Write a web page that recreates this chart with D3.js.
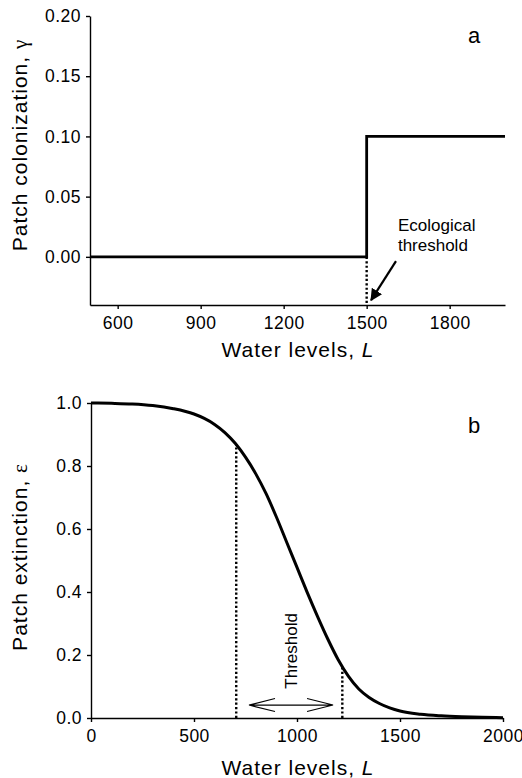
<!DOCTYPE html>
<html>
<head>
<meta charset="utf-8">
<script src="https://cdn.jsdelivr.net/npm/d3@7"></script>
<style>
  body { margin: 0; background: #fff; }
  text { font-family: "Liberation Sans", Arial, Helvetica, sans-serif; fill: #000; }
  .tick text { font-size: 17.5px; letter-spacing: 0.5px; }
  .domain, .tick line { stroke: #000; stroke-width: 1.4px; }
  .title { font-size: 21px; letter-spacing: 1px; }
  .greek { font-family: "Liberation Serif", "DejaVu Serif", serif; }
</style>
</head>
<body>
<script>
// panel a: colonization step
var colonLevels = [500, 1500, 2000];
var colonValues = [0, 0.1, 0.1];
var colonXTicks = [600, 900, 1200, 1500, 1800];
var colonYTicks = [0, 0.05, 0.1, 0.15, 0.2];
var colonThreshold = 1500;

// panel b: extinction curve
var extLevels = [0, 100, 200, 300, 400, 500, 550, 600, 650, 700, 750, 800, 850, 900, 950, 1000, 1050, 1100, 1150, 1200, 1250, 1300, 1350, 1400, 1450, 1500, 1600, 1700, 1800, 1900, 2000];
var extValues = [1.0, 0.999, 0.997, 0.992, 0.982, 0.965, 0.951, 0.932, 0.906, 0.872, 0.828, 0.775, 0.712, 0.638, 0.558, 0.478, 0.398, 0.322, 0.25, 0.185, 0.132, 0.092, 0.065, 0.046, 0.032, 0.022, 0.012, 0.007, 0.004, 0.002, 0.001];
var extXTicks = [0, 500, 1000, 1500, 2000];
var extYTicks = [0, 0.2, 0.4, 0.6, 0.8, 1.0];
var thresholdLevels = [705, 1220];
var thresholdValues = [0.869, 0.162];
var arrowLevels = [767, 1175];
var arrowValue = 0.041;

var svg = d3.select("body").append("svg")
    .attr("width", 522)
    .attr("height", 778);

// ---------- panel a ----------
var xa = d3.scaleLinear().domain([500, 2000]).range([90, 505]);
var ya = d3.scaleLinear().domain([-0.04, 0.2]).range([305, 16]);

svg.append("g")
    .attr("transform", "translate(0,305)")
    .call(d3.axisBottom(xa).tickValues(colonXTicks).tickFormat(d3.format("d")).tickSize(4).tickSizeOuter(0).tickPadding(8));

svg.append("g")
    .attr("transform", "translate(90,0)")
    .call(d3.axisLeft(ya).tickValues(colonYTicks).tickFormat(d3.format(".2f")).tickSize(4).tickSizeOuter(0).tickPadding(5));

svg.append("path")
    .datum(colonLevels.map(function(d, i) { return [d, colonValues[i]]; }))
    .attr("fill", "none")
    .attr("stroke", "#000")
    .attr("stroke-width", 2.8)
    .attr("d", d3.line()
        .x(function(d) { return xa(d[0]); })
        .y(function(d) { return ya(d[1]); })
        .curve(d3.curveStepAfter));

svg.append("line")
    .attr("x1", xa(colonThreshold)).attr("x2", xa(colonThreshold))
    .attr("y1", ya(0)).attr("y2", ya(-0.04))
    .attr("stroke", "#000")
    .attr("stroke-width", 2.4)
    .attr("stroke-dasharray", "2.2,2.2");

svg.append("defs").append("marker")
    .attr("id", "solidhead")
    .attr("viewBox", "0 0 10 10")
    .attr("refX", 9).attr("refY", 5)
    .attr("markerWidth", 5.5).attr("markerHeight", 5.5)
    .attr("orient", "auto")
    .append("path")
    .attr("d", "M0,0 L10,5 L0,10 z")
    .attr("fill", "#000");

svg.append("line")
    .attr("x1", xa(1606)).attr("y1", ya(-0.0035))
    .attr("x2", xa(1516)).attr("y2", ya(-0.036))
    .attr("stroke", "#000")
    .attr("stroke-width", 2.2)
    .attr("marker-end", "url(#solidhead)");

svg.append("text")
    .attr("x", xa(1613)).attr("y", ya(0.0215))
    .style("font-size", "17px")
    .text("Ecological");
svg.append("text")
    .attr("x", xa(1613)).attr("y", ya(0.0049))
    .style("font-size", "17px")
    .text("threshold");

svg.append("text")
    .attr("x", 468).attr("y", 43)
    .style("font-size", "22px")
    .text("a");

var ta = svg.append("text")
    .attr("class", "title")
    .attr("x", 298).attr("y", 357)
    .attr("text-anchor", "middle");
ta.append("tspan").text("Water levels, ");
ta.append("tspan").style("font-style", "italic").text("L");

var tya = svg.append("text")
    .attr("class", "title")
    .attr("transform", "translate(27,145) rotate(-90)")
    .attr("text-anchor", "middle");
tya.append("tspan").text("Patch colonization, ");
tya.append("tspan").attr("class", "greek").text("γ");

// ---------- panel b ----------
var xb = d3.scaleLinear().domain([0, 2000]).range([91, 503]);
var yb = d3.scaleLinear().domain([0, 1]).range([718, 403]);

svg.append("g")
    .attr("transform", "translate(0,718)")
    .call(d3.axisBottom(xb).tickValues(extXTicks).tickFormat(d3.format("d")).tickSize(4).tickSizeOuter(0).tickPadding(8));

svg.append("g")
    .attr("transform", "translate(91,0)")
    .call(d3.axisLeft(yb).tickValues(extYTicks).tickFormat(d3.format(".1f")).tickSize(4).tickSizeOuter(0).tickPadding(5));

svg.append("path")
    .datum(extLevels.map(function(d, i) { return [d, extValues[i]]; }))
    .attr("fill", "none")
    .attr("stroke", "#000")
    .attr("stroke-width", 3)
    .attr("d", d3.line()
        .x(function(d) { return xb(d[0]); })
        .y(function(d) { return yb(d[1]); })
        .curve(d3.curveMonotoneX));

svg.selectAll(".thr")
    .data(thresholdLevels)
    .enter().append("line")
    .attr("class", "thr")
    .attr("x1", function(d) { return xb(d); })
    .attr("x2", function(d) { return xb(d); })
    .attr("y1", yb(0))
    .attr("y2", function(d, i) { return yb(thresholdValues[i]); })
    .attr("stroke", "#000")
    .attr("stroke-width", 2.4)
    .attr("stroke-dasharray", "2.2,2.2");

// double arrow with open heads
var ax1 = xb(arrowLevels[0]), ax2 = xb(arrowLevels[1]), ay = yb(arrowValue);
svg.append("path")
    .attr("fill", "none")
    .attr("stroke", "#000")
    .attr("stroke-width", 1.1)
    .attr("d", "M" + ax1 + "," + ay + "L" + ax2 + "," + ay +
        "M" + (ax1 + 26) + "," + (ay - 6.5) + "L" + ax1 + "," + ay + "L" + (ax1 + 26) + "," + (ay + 6.5) +
        "M" + (ax2 - 26) + "," + (ay - 6.5) + "L" + ax2 + "," + ay + "L" + (ax2 - 26) + "," + (ay + 6.5));

svg.append("text")
    .attr("transform", "translate(" + (xb(971) + 6) + "," + yb(0.213) + ") rotate(-90)")
    .attr("text-anchor", "middle")
    .style("font-size", "17px")
    .text("Threshold");

svg.append("text")
    .attr("x", 468).attr("y", 433)
    .style("font-size", "22px")
    .text("b");

var tb = svg.append("text")
    .attr("class", "title")
    .attr("x", 298).attr("y", 775)
    .attr("text-anchor", "middle");
tb.append("tspan").text("Water levels, ");
tb.append("tspan").style("font-style", "italic").text("L");

var tyb = svg.append("text")
    .attr("class", "title")
    .attr("transform", "translate(27,557) rotate(-90)")
    .attr("text-anchor", "middle");
tyb.append("tspan").text("Patch extinction, ");
tyb.append("tspan").attr("class", "greek").text("ε");
</script>
</body>
</html>
